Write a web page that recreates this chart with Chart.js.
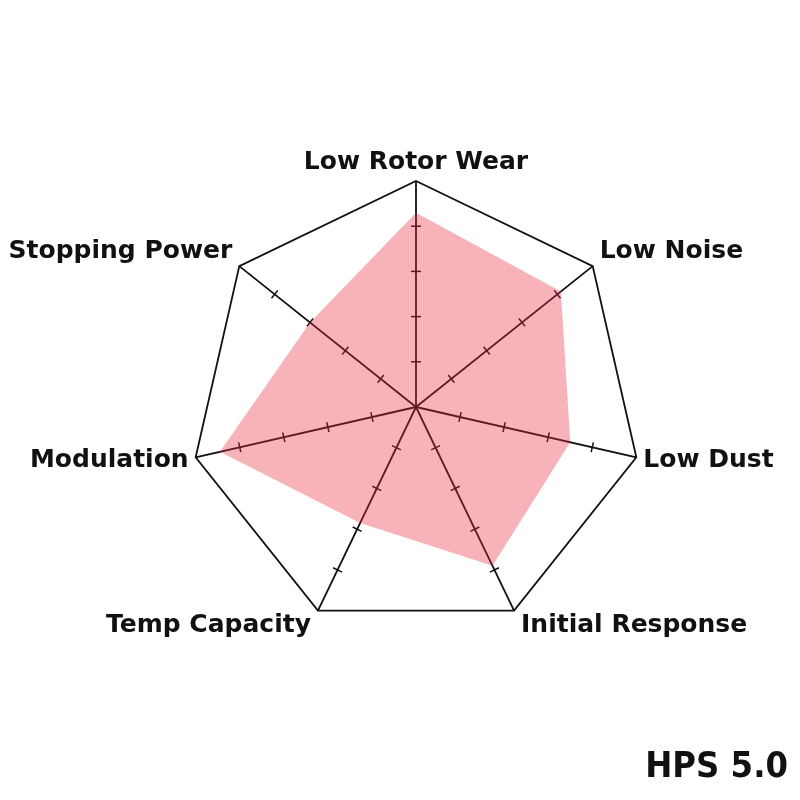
<!DOCTYPE html>
<html>
<head>
<meta charset="utf-8">
<script src="https://cdn.jsdelivr.net/npm/chart.js@4.4.0/dist/chart.umd.min.js"></script>
<style>
  html, body { margin: 0; padding: 0; background: #fff; }
  #wrap { position: relative; width: 800px; height: 800px; }
  #badge {
    position: absolute; right: 12px; top: 745px;
    font-family: 'DejaVu Sans Condensed', 'Liberation Sans Narrow', sans-serif;
    font-stretch: condensed; font-weight: bold; font-size: 36px; color: #111;
    line-height: 40px;
  }
</style>
</head>
<body>
<div id="wrap">
  <canvas id="radarChart" width="800" height="800"></canvas>
  <div id="badge">HPS 5.0</div>
</div>
<script>
const labels = ['Low Rotor Wear', 'Low Noise', 'Low Dust', 'Initial Response', 'Temp Capacity', 'Modulation', 'Stopping Power'];
const ratings = [4.3, 4.1, 3.5, 3.9, 2.85, 4.45, 3.0];
const tickValues = [1, 2, 3, 4];
const scaleMax = 5;

// small cross ticks on every spoke, drawn under the fill
const spokeTicks = {
  id: 'spokeTicks',
  beforeDatasetsDraw(chart) {
    const scale = chart.scales.r;
    const ctx = chart.ctx;
    ctx.save();
    ctx.strokeStyle = '#111';
    ctx.lineWidth = 1.5;
    labels.forEach((l, i) => {
      const a = scale.getIndexAngle(i) - Math.PI / 2;
      const px = -Math.sin(a), py = Math.cos(a);
      tickValues.forEach(v => {
        const p = scale.getPointPositionForValue(i, v);
        ctx.beginPath();
        ctx.moveTo(p.x - px * 5, p.y - py * 5);
        ctx.lineTo(p.x + px * 5, p.y + py * 5);
        ctx.stroke();
      });
    });
    ctx.restore();
  }
};

// spoke names
const spokeLabels = {
  id: 'spokeLabels',
  afterDraw(chart) {
    const scale = chart.scales.r;
    const ctx = chart.ctx;
    ctx.save();
    ctx.font = 'bold 25px "DejaVu Sans"';
    ctx.fillStyle = '#111';
    labels.forEach((l, i) => {
      const a = scale.getIndexAngle(i) - Math.PI / 2;
      const c = Math.cos(a), s = Math.sin(a);
      const p = scale.getPointPositionForValue(i, scaleMax);
      let x = p.x, y = p.y;
      if (c > 0.15) { ctx.textAlign = 'left'; x += 7; }
      else if (c < -0.15) { ctx.textAlign = 'right'; x -= 7; }
      else ctx.textAlign = 'center';
      ctx.textBaseline = 'middle';
      if (s < -0.9) y -= 19;
      else if (s < -0.3) y -= 15;
      else if (s > 0) y += 16 * s;
      ctx.fillText(l, x, y);
    });
    ctx.restore();
  }
};

new Chart(document.getElementById('radarChart'), {
  type: 'radar',
  data: {
    labels: labels,
    datasets: [{
      data: ratings,
      backgroundColor: 'rgba(235, 45, 65, 0.36)',
      borderWidth: 0,
      pointRadius: 0,
      fill: true
    }]
  },
  options: {
    responsive: false,
    animation: false,
    layout: { padding: { left: 190, right: 158, top: 181, bottom: 167 } },
    plugins: { legend: { display: false }, tooltip: { enabled: false } },
    scales: {
      r: {
        min: 0,
        max: scaleMax,
        ticks: { display: false, stepSize: 1 },
        pointLabels: { display: false },
        grid: {
          color: c => (c.tick && c.tick.value === scaleMax) ? '#111' : 'rgba(0,0,0,0)',
          lineWidth: 1.8
        },
        angleLines: { color: '#111', lineWidth: 1.8 }
      }
    }
  },
  plugins: [spokeTicks, spokeLabels]
});
</script>
</body>
</html>
